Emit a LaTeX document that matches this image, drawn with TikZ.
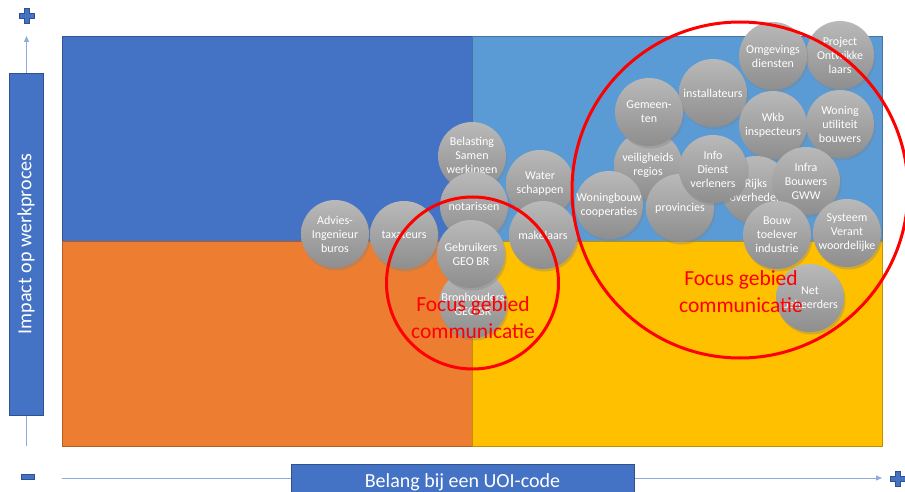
\documentclass[tikz,border=0pt]{standalone}
\usepackage{fontspec}
\setmainfont{Carlito}
\usetikzlibrary{arrows.meta,shadows,positioning}

\definecolor{topleft}{HTML}{4472C4}
\definecolor{topright}{HTML}{5B9BD5}
\definecolor{bottomleft}{HTML}{ED7D31}
\definecolor{bottomright}{HTML}{FFC000}
\definecolor{axisline}{HTML}{8FAADC}
\definecolor{axisedge}{HTML}{2F528F}
\definecolor{focusred}{HTML}{FF0000}
\definecolor{partytop}{HTML}{B9B9B9}
\definecolor{partybottom}{HTML}{8E8E8E}

\begin{document}
\begin{tikzpicture}
	% Styles
	[
	x=1pt, y=-1pt,
	quadrant/.style={line width=0.8pt},
	party/.style={circle, inner sep=-6pt, minimum size=68pt, top color=partytop, bottom color=partybottom,
		drop shadow={shadow xshift=1.5pt, shadow yshift=-2.5pt, opacity=0.35}, text=white, align=center,
		font=\fontsize{12}{14}\selectfont},
	focusring/.style={circle, draw=focusred, line width=3pt, inner sep=0pt},
	focustext/.style={text=focusred, align=center, font=\fontsize{21.5}{27}\selectfont},
	axisbox/.style={draw=axisedge, fill=topleft, text=white, inner sep=0pt, font=\fontsize{20}{24}\selectfont},
	axisarrow/.style={draw=axisline, line width=0.8pt, -{Triangle[length=6pt,width=5pt]}},
	signmark/.style={fill=topleft, draw=axisedge, line width=0.6pt},
	]
	\useasboundingbox (0,0) rectangle (905,492);

	% Quadrants
	\filldraw[quadrant, fill=topleft, draw=topleft!75!black] (62,36) rectangle (472,241);
	\filldraw[quadrant, fill=topright, draw=topright!75!black] (472,36) rectangle (882,241);
	\filldraw[quadrant, fill=bottomleft, draw=bottomleft!75!black] (62,241) rectangle (472,446);
	\filldraw[quadrant, fill=bottomright, draw=bottomright!75!black] (472,241) rectangle (882,446);

	% Axes
	\coordinate (ybottom) at (26.5,446);
	\coordinate (ytop) at (26.5,36);
	\coordinate (xleft) at (62,478);
	\coordinate (xright) at (882,478);
	\draw[axisarrow] (ybottom) -- (ytop);
	\draw[axisarrow] (xleft) -- (xright);
	\node at (26,244)	(ylabel)	[axisbox, rotate=90, minimum width=342pt, minimum height=34pt] {Impact op werkproces};
	\node at (462.5,482)	(xlabel)	[axisbox, minimum width=343pt, minimum height=36pt] {Belang bij een UOI-code};

	% Signs
	\filldraw[signmark, shift={(26.5,16)}] (-2.5,-7.5) -- (2.5,-7.5) -- (2.5,-2.5) -- (7.5,-2.5) -- (7.5,2.5) -- (2.5,2.5)
		-- (2.5,7.5) -- (-2.5,7.5) -- (-2.5,2.5) -- (-7.5,2.5) -- (-7.5,-2.5) -- (-2.5,-2.5) -- cycle;
	\filldraw[signmark, shift={(898,479)}] (-2.5,-7.5) -- (2.5,-7.5) -- (2.5,-2.5) -- (7.5,-2.5) -- (7.5,2.5) -- (2.5,2.5)
		-- (2.5,7.5) -- (-2.5,7.5) -- (-2.5,2.5) -- (-7.5,2.5) -- (-7.5,-2.5) -- (-2.5,-2.5) -- cycle;
	\filldraw[signmark] (21,474) rectangle (34,479);

	% Nodes, left group
	\node at (335,234)	(advies)	[party] {Advies-\\Ingenieur\\buros};
	\node at (404,235)	(taxateurs)	[party] {taxateurs};
	\node at (472,156)	(belasting)	[party] {Belasting\\Samen\\werkingen};
	\node at (540,184)	(water)		[party] {Water\\schappen};
	\node at (474,206)	(notarissen)	[party] {notarissen};
	\node at (543,235)	(makelaars)	[party] {makelaars};
	\node at (473,304)	(bronhouders)	[party] {Bronhouders\\GEO BR};
	\node at (471,254)	(gebruikers)	[party] {Gebruikers\\GEO BR};

	% Nodes, right group
	\node at (840,55)	(project)	[party] {Project\\Ontwikke\\laars};
	\node at (773,56)	(omgevings)	[party] {Omgevings\\diensten};
	\node at (713,93)	(installateurs)	[party] {installateurs};
	\node at (773,125)	(wkb)		[party] {Wkb\\inspecteurs};
	\node at (840,124)	(woning)	[party] {Woning\\utiliteit\\bouwers};
	\node at (648,165)	(veiligheid)	[party] {veiligheids\\regios};
	\node at (649,112)	(gemeenten)	[party] {Gemeen-\\ten};
	\node at (756,190)	(rijks)		[party] {Rijks\\overheden};
	\node at (609,205)	(woningbouw)	[party] {Woningbouw\\cooperaties};
	\node at (680,208)	(provincies)	[party] {provincies};
	\node at (713,169)	(info)		[party] {Info\\Dienst\\verleners};
	\node at (806,181)	(infra)		[party] {Infra\\Bouwers\\GWW};
	\node at (847,233)	(systeem)	[party] {Systeem\\Verant\\woordelijke};
	\node at (777,235)	(bouw)		[party] {Bouw\\toelever\\industrie};
	\node at (810,298)	(net)		[party] {Net\\beheerders};

	% Focus areas
	\node at (472.5,283)	(smallfocus)	[focusring, minimum size=172pt] {};
	\node at (740,190)	(largefocus)	[focusring, minimum size=336pt] {};
	\node at (473,318)	(smalltext)	[focustext] {Focus gebied\\communicatie};
	\node at (741,292)	(largetext)	[focustext] {Focus gebied\\communicatie};

\end{tikzpicture}
\end{document}
